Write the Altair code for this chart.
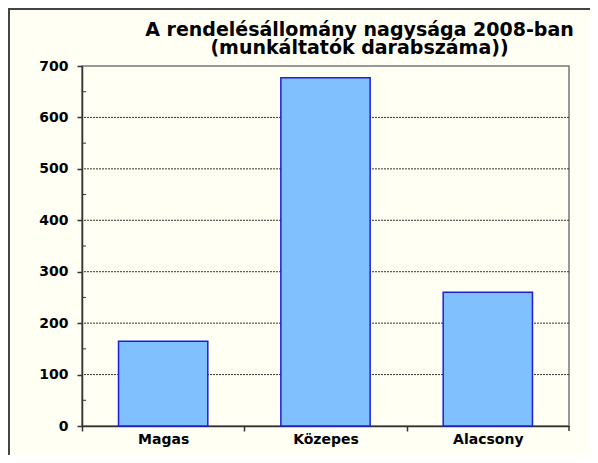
import altair as alt
import pandas as pd

categories = ["Magas", "Közepes", "Alacsony"]
values = [165, 677, 260]
y_ticks = [0, 100, 200, 300, 400, 500, 600, 700]
grid_values = [100, 200, 300, 400, 500, 600]
minor_ticks = [50, 150, 250, 350, 450, 550, 650]
title_lines = ["A rendelésállomány nagysága 2008-ban", "(munkáltatók darabszáma))"]

FONT = "DejaVu Sans"
W, H = 487, 360
P_IN, P_OUT = 0.45, 0.225
step = W / (len(categories) - P_IN + 2 * P_OUT)
band = step * (1 - P_IN)
start0 = step * P_OUT

df = pd.DataFrame({"cat": categories, "val": values})
grid_df = pd.DataFrame({"g": grid_values})
minor_df = pd.DataFrame({"m": minor_ticks})
one = pd.DataFrame({"k": [0]})

xscale = alt.Scale(domain=categories, paddingInner=P_IN, paddingOuter=P_OUT)
yscale = alt.Scale(domain=[0, 700], nice=False, zero=True)

yaxis = alt.Axis(
    title=None,
    values=y_ticks,
    grid=False,
    tickSize=5,
    tickColor="#333333",
    tickWidth=1.5,
    domainColor="#333333",
    domainWidth=1.5,
    labelFont=FONT,
    labelFontSize=14,
    labelFontWeight="bold",
    labelColor="#000000",
    labelPadding=9,
)

grid = alt.Chart(grid_df).mark_rule(color="#333333", strokeWidth=1, strokeDash=[2, 1]).encode(
    y=alt.Y("g:Q", scale=yscale, axis=yaxis)
)

minor = alt.Chart(minor_df).mark_rule(color="#333333", strokeWidth=1).encode(
    y=alt.Y("m:Q", scale=yscale, axis=yaxis),
    x=alt.value(0),
    x2=alt.value(4),
)

bars = alt.Chart(df).mark_bar(fill="#80C0FF", stroke="#1E1ED8", strokeWidth=1.5).encode(
    x=alt.X(
        "cat:N",
        sort=categories,
        scale=xscale,
        axis=alt.Axis(
            title=None,
            labelAngle=0,
            bandPosition=0,
            tickOffset=-start0,
            labelOffset=start0,
            tickSize=5,
            tickColor="#333333",
            tickWidth=1.5,
            domainColor="#333333",
            domainWidth=1.5,
            labelFont=FONT,
            labelFontSize=14,
            labelFontWeight="bold",
            labelColor="#000000",
            labelPadding=1,
            grid=False,
        ),
    ),
    y=alt.Y("val:Q", scale=yscale, axis=yaxis),
)

end_tick = alt.Chart(one).mark_rule(color="#333333", strokeWidth=1.5).encode(
    x=alt.value(W), y=alt.value(H), y2=alt.value(H + 5)
)

frame_left = alt.Chart(one).mark_rule(color="#444444", strokeWidth=2).encode(
    x=alt.value(-73), y=alt.value(-57), y2=alt.value(H + 40)
)
frame_top = alt.Chart(one).mark_rule(color="#444444", strokeWidth=2).encode(
    y=alt.value(-57), x=alt.value(-74), x2=alt.value(W + 40)
)

chart = (
    alt.layer(grid, minor, bars, end_tick, frame_left, frame_top)
    .properties(
        width=W,
        height=H,
        padding={"left": 74, "top": 58, "right": 21, "bottom": 29},
        autosize=alt.AutoSizeParams(type="none"),
        background="#FFFFF4",
        title=alt.TitleParams(
            title_lines,
            font=FONT,
            fontSize=19,
            fontWeight="bold",
            color="#000000",
            anchor="middle",
            frame="group",
            dx=34,
            baseline="bottom",
            offset=-69,
            lineHeight=18,
        ),
    )
    .configure_view(stroke="#777777", strokeWidth=1.5)
)

chart.save("out.html", embed_options={"renderer": "svg", "actions": False})
